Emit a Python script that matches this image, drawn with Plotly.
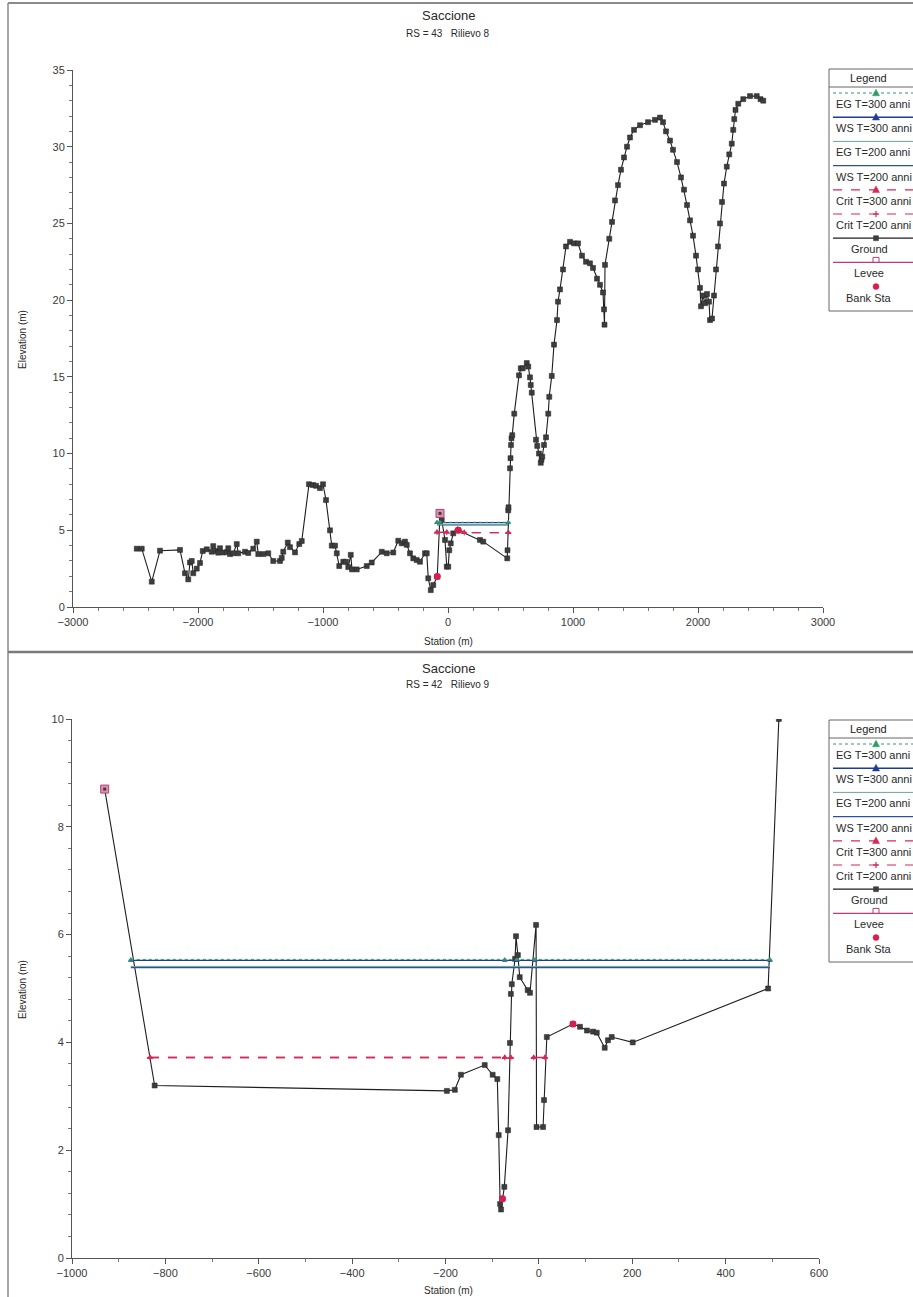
import plotly.graph_objects as go

W, H = 913, 1297
FONT = "Liberation Sans Narrow, Liberation Sans, Arial, sans-serif"

# ---------------- RS = 43  Rilievo 8 ----------------
sta_43 = [-2490, -2450, -2370, -2304, -2144, -2104, -2078, -2064, -2050, -2038,
          -2010, -1984, -1962, -1930, -1890, -1878, -1850, -1838, -1824, -1798,
          -1770, -1758, -1744, -1718, -1690, -1678, -1624, -1598, -1558, -1530,
          -1518, -1478, -1438, -1398, -1344, -1330, -1318, -1282, -1264, -1224,
          -1190, -1170, -1112, -1080, -1056, -1024, -1000, -976, -944, -930,
          -904, -890, -870, -838, -816, -798, -778, -768, -730, -650,
          -610, -530, -490, -438, -398, -370, -344, -330, -304, -278,
          -250, -224, -184, -170, -158, -138, -118, -86, -64, -50,
          -24, -10, 2, 10, 22, 42, 82, 256, 282, 474,
          476, 482, 484, 496, 500, 504, 508, 514, 530, 568,
          582, 598, 630, 642, 656, 662, 670, 704, 714, 728,
          742, 748, 754, 768, 784, 802, 810, 830, 848, 872,
          880, 896, 920, 944, 976, 1008, 1040, 1072, 1104, 1136,
          1160, 1192, 1216, 1240, 1248, 1252, 1256, 1290, 1312, 1336,
          1360, 1384, 1408, 1432, 1456, 1488, 1536, 1600, 1656, 1696,
          1720, 1744, 1776, 1800, 1832, 1864, 1888, 1912, 1936, 1960,
          1984, 2000, 2016, 2024, 2040, 2056, 2072, 2088, 2096, 2112,
          2128, 2144, 2160, 2176, 2192, 2208, 2230, 2250, 2270, 2282,
          2290, 2300, 2322, 2362, 2416, 2470, 2500, 2522]
elev_43 = [3.8, 3.8, 1.65, 3.67, 3.72, 2.2, 1.8, 2.9, 3.0, 2.2,
           2.5, 2.87, 3.65, 3.76, 3.6, 3.97, 3.65, 3.54, 3.83, 3.55,
           3.57, 3.83, 3.45, 3.5, 4.1, 3.5, 3.6, 3.52, 3.8, 4.26,
           3.45, 3.45, 3.5, 3.0, 3.0, 3.2, 3.6, 4.2, 3.9, 3.56,
           4.1, 4.3, 8.0, 7.95, 7.9, 7.75, 8.0, 6.97, 5.0, 4.0,
           4.0, 3.5, 2.67, 2.95, 2.95, 2.6, 3.4, 2.45, 2.45, 2.67,
           2.9, 3.6, 3.5, 3.55, 4.32, 4.15, 4.26, 4.05, 3.5, 3.17,
           3.06, 2.95, 3.5, 3.5, 1.87, 1.1, 1.43, 1.98, 6.1, 5.67,
           4.37, 2.63, 2.63, 3.7, 4.15, 4.8, 5.0, 4.37, 4.26, 3.17,
           3.7, 6.3, 6.5, 9.04, 9.7, 10.56, 11.0, 11.2, 12.6, 15.1,
           15.56, 15.56, 15.9, 15.67, 14.97, 14.47, 13.97, 10.9, 10.5, 10.0,
           9.4, 9.6, 9.8, 10.56, 11.06, 12.6, 13.7, 15.06, 17.1, 18.7,
           19.9, 20.7, 22.0, 23.5, 23.8, 23.7, 23.7, 22.9, 22.5, 22.4,
           22.1, 21.4, 21.0, 20.5, 19.4, 18.4, 22.3, 24.0, 25.1, 26.5,
           27.5, 28.5, 29.3, 30.0, 30.6, 31.1, 31.4, 31.6, 31.75, 31.9,
           31.6, 31.0, 30.4, 29.8, 29.0, 28.0, 27.2, 26.2, 25.2, 24.2,
           22.9, 22.0, 20.8, 19.6, 20.3, 19.8, 20.4, 19.9, 18.7, 18.8,
           20.3, 22.0, 23.5, 25.0, 26.4, 27.6, 28.7, 29.5, 30.2, 31.1,
           31.8, 32.4, 32.8, 33.1, 33.3, 33.3, 33.1, 33.0]
levee_sta_43 = [-64]
levee_elev_43 = [6.1]
bank_sta_43 = [-86, 82]
bank_elev_43 = [1.98, 5.0]
ws_sta_43 = [-88, -64, 482]
eg300_43, ws300_43, eg200_43, ws200_43 = 5.52, 5.50, 5.37, 5.35
crit_sta_43 = [-88, -10, 78, 130, 482]
crit_elev_43 = [4.87, 4.87, 5.07, 4.85, 4.85]

# ---------------- RS = 42  Rilievo 9 ----------------
sta_42 = [-930, -823, -197, -180, -167, -116, -99, -89, -86, -83,
          -81, -78, -74, -66, -62, -60, -58, -51, -49, -45,
          -41, -24, -19, -6, -5, 9, 11, 17, 73, 88,
          103, 116, 124, 141, 148, 156, 201, 491, 514]
elev_42 = [8.7, 3.2, 3.1, 3.12, 3.4, 3.58, 3.4, 3.32, 2.28, 1.0,
           0.9, 1.1, 1.32, 2.37, 3.99, 4.9, 5.08, 5.55, 5.97, 5.62,
           5.21, 4.97, 4.92, 6.18, 2.43, 2.43, 2.93, 4.1, 4.34, 4.29,
           4.22, 4.2, 4.18, 3.9, 4.04, 4.1, 4.0, 5.0, 10.0]
levee_sta_42 = [-930]
levee_elev_42 = [8.7]
bank_sta_42 = [-78, 73]
bank_elev_42 = [1.1, 4.34]
ws_sta_42 = [-874, -73, -47, -9, 495]
eg300_42, ws300_42, eg200_42, ws200_42 = 5.54, 5.52, 5.41, 5.39
crit_sta_42 = [-833, -73, -60, None, -11, 13]
crit_level_42 = 3.72

C_GROUND = "#1e1e1e"
C_GMARK = "#3d3d3d"
C_EG300 = "#2f9c68"
C_WS300 = "#1c3c96"
C_EG200 = "#6aa88a"
C_WS200 = "#2c4f9f"
C_CRIT = "#d42a55"
C_LEVEE = "#c03a78"
C_BANK = "#d81e4e"

fig = go.Figure()


def add_section(xa, ya, sta, elev, ws_sta, eg300, ws300, eg200, ws200,
                crit_sta, crit_elev, levee_sta, levee_elev, bank_sta, bank_elev):
    kw = dict(xaxis=xa, yaxis=ya, showlegend=False, hoverinfo="skip")
    fig.add_trace(go.Scatter(x=sta, y=elev, mode="lines+markers",
                             line=dict(color=C_GROUND, width=1.1),
                             marker=dict(symbol="square", size=5, color=C_GMARK,
                                         line=dict(color="#222", width=0.5)), **kw))
    n = len(ws_sta)
    fig.add_trace(go.Scatter(x=[ws_sta[0], ws_sta[-1]], y=[ws200] * 2, mode="lines",
                             line=dict(color=C_WS200, width=1.3), **kw))
    fig.add_trace(go.Scatter(x=[ws_sta[0], ws_sta[-1]], y=[eg200] * 2, mode="lines",
                             line=dict(color=C_EG200, width=1.0), **kw))
    fig.add_trace(go.Scatter(x=ws_sta, y=[ws300] * n, mode="lines+markers",
                             line=dict(color=C_WS300, width=1.3),
                             marker=dict(symbol="triangle-up", size=5, color=C_WS300), **kw))
    fig.add_trace(go.Scatter(x=ws_sta, y=[eg300] * n, mode="lines+markers",
                             line=dict(color=C_EG300, width=1.0, dash="dot"),
                             marker=dict(symbol="triangle-up", size=5, color=C_EG300), **kw))
    fig.add_trace(go.Scatter(x=crit_sta, y=crit_elev, mode="lines+markers",
                             line=dict(color=C_CRIT, width=1.3, dash="dash"),
                             marker=dict(symbol="cross-thin", size=4,
                                         line=dict(color=C_CRIT, width=1)), **kw))
    fig.add_trace(go.Scatter(x=crit_sta, y=crit_elev, mode="lines+markers",
                             line=dict(color=C_CRIT, width=1.3, dash="dash"),
                             marker=dict(symbol="triangle-up", size=6, color=C_CRIT), **kw))
    fig.add_trace(go.Scatter(x=levee_sta, y=levee_elev, mode="markers",
                             marker=dict(symbol="square", size=8, color="#d497ae",
                                         line=dict(color=C_LEVEE, width=1)), **kw))
    fig.add_trace(go.Scatter(x=levee_sta, y=levee_elev, mode="markers",
                             marker=dict(symbol="square", size=3, color=C_GMARK), **kw))
    fig.add_trace(go.Scatter(x=bank_sta, y=bank_elev, mode="markers",
                             marker=dict(symbol="circle", size=7, color=C_BANK), **kw))


add_section("x", "y", sta_43, elev_43, ws_sta_43, eg300_43, ws300_43, eg200_43, ws200_43,
            crit_sta_43, crit_elev_43, levee_sta_43, levee_elev_43, bank_sta_43, bank_elev_43)
add_section("x2", "y2", sta_42, elev_42, ws_sta_42, eg300_42, ws300_42, eg200_42, ws200_42,
            crit_sta_42, [crit_level_42 if s is not None else None for s in crit_sta_42],
            levee_sta_42, levee_elev_42, bank_sta_42, bank_elev_42)


def px(x):
    return x / W


def py(y):
    return 1 - y / H


tickfont = dict(family=FONT, size=11, color="#3a3a3a")
axis_common = dict(showline=True, linecolor="#555", linewidth=1, ticks="outside",
                   ticklen=5, tickcolor="#555", showgrid=False, zeroline=False,
                   automargin=False, tickfont=tickfont)

fig.update_layout(
    width=W, height=H, margin=dict(l=0, r=0, t=0, b=0, pad=0), autosize=False,
    paper_bgcolor="white", plot_bgcolor="white", showlegend=False,
    xaxis=dict(domain=[px(73), px(823)], range=[-3000, 3000], dtick=1000,
               anchor="y", minor=dict(dtick=200, ticks="outside", ticklen=3, tickcolor="#777"),
               **axis_common),
    yaxis=dict(domain=[py(607), py(70)], range=[0, 35], dtick=5, anchor="x",
               minor=dict(dtick=1, ticks="outside", ticklen=3, tickcolor="#777"),
               **axis_common),
    xaxis2=dict(domain=[px(72), px(819)], range=[-1000, 600], dtick=200,
                anchor="y2", minor=dict(dtick=100, ticks="outside", ticklen=3, tickcolor="#777"),
                **axis_common),
    yaxis2=dict(domain=[py(1258), py(719)], range=[0, 10], dtick=2, anchor="x2",
                minor=dict(dtick=0.4, ticks="outside", ticklen=3, tickcolor="#777"),
                **axis_common),
)

annotations = []
shapes = []


def text(x, y, s, size, anchor="center", angle=0, color="#2a2a2a"):
    annotations.append(dict(x=px(x), y=py(y), xref="paper", yref="paper", text=s,
                            showarrow=False, xanchor=anchor, yanchor="middle",
                            textangle=angle, font=dict(family=FONT, size=size, color=color)))


# page frame
shapes.append(dict(type="line", xref="paper", yref="paper", x0=px(8), x1=1.0,
                   y0=py(3), y1=py(3), line=dict(color="#8a8a8a", width=2)))
shapes.append(dict(type="line", xref="paper", yref="paper", x0=px(8), x1=px(8),
                   y0=py(3), y1=0, line=dict(color="#8a8a8a", width=1.5)))
shapes.append(dict(type="line", xref="paper", yref="paper", x0=px(8), x1=1.0,
                   y0=py(652), y1=py(652), line=dict(color="#7a7a7a", width=2.5)))

# titles and axis labels
for off, rs in ((0, "RS = 43   Rilievo 8"), (652, "RS = 42   Rilievo 9")):
    text(448, 16 + off, "Saccione", 13)
    text(448, 33 + off, rs, 10)
text(22, 340, "Elevation (m)", 10, angle=-90)
text(22, 990, "Elevation (m)", 10, angle=-90)
text(448, 641, "Station (m)", 10)
text(448, 1290, "Station (m)", 10)


def tri(cx, cy, col, s=3.5):
    shapes.append(dict(type="path", xref="paper", yref="paper",
                       path=f"M {px(cx - s)},{py(cy + s * 0.8)} L {px(cx + s)},{py(cy + s * 0.8)} "
                            f"L {px(cx)},{py(cy - s * 1.1)} Z",
                       fillcolor=col, line=dict(color=col, width=0.5)))


def hline(x0, x1, y, col, width=1.2, dash="solid"):
    shapes.append(dict(type="line", xref="paper", yref="paper", x0=px(x0), x1=px(x1),
                       y0=py(y), y1=py(y), line=dict(color=col, width=width, dash=dash)))


def legend_box(top):
    shapes.append(dict(type="rect", xref="paper", yref="paper", x0=px(829), x1=1.02,
                       y0=py(top), y1=py(top + 242), line=dict(color="#666", width=1),
                       fillcolor="white", layer="above"))
    hline(829, 920, top + 18, "#666", 1)
    text(868, top + 9, "Legend", 11, color="#222")
    names = ["EG T=300 anni", "WS T=300 anni", "EG T=200 anni", "WS T=200 anni",
             "Crit T=300 anni", "Crit T=200 anni", "Ground", "Levee", "Bank Sta"]
    for i, name in enumerate(names):
        ly = top + 24 + 24.2 * i
        ty = ly + 11
        mx = 876
        if i == 0:
            hline(833, 913, ly, C_EG300, 1, "dot")
            tri(mx, ly, C_EG300)
        elif i == 1:
            hline(833, 913, ly, C_WS300, 1.4)
            tri(mx, ly, C_WS300)
        elif i == 2:
            hline(833, 913, ly, C_EG200, 1)
        elif i == 3:
            hline(833, 913, ly, C_WS200, 1.4)
        elif i == 4:
            hline(833, 913, ly, C_CRIT, 1.2, "dash")
            tri(mx, ly, C_CRIT)
        elif i == 5:
            hline(833, 913, ly, C_CRIT, 1.2, "dash")
            hline(mx - 3, mx + 3, ly, C_CRIT, 1.2)
            shapes.append(dict(type="line", xref="paper", yref="paper", x0=px(mx), x1=px(mx),
                               y0=py(ly - 3), y1=py(ly + 3), line=dict(color=C_CRIT, width=1.2)))
        elif i == 6:
            hline(833, 913, ly, C_GROUND, 1.2)
            shapes.append(dict(type="rect", xref="paper", yref="paper", x0=px(mx - 2.5),
                               x1=px(mx + 2.5), y0=py(ly + 2.5), y1=py(ly - 2.5),
                               fillcolor=C_GMARK, line=dict(color=C_GMARK, width=0.5)))
        elif i == 7:
            hline(833, 913, ly, C_LEVEE, 1.2)
            shapes.append(dict(type="path", xref="paper", yref="paper",
                               path=f"M {px(mx - 3)},{py(ly)} L {px(mx - 3)},{py(ly - 5)} "
                                    f"L {px(mx + 3)},{py(ly - 5)} L {px(mx + 3)},{py(ly)}",
                               line=dict(color=C_LEVEE, width=1)))
        else:
            shapes.append(dict(type="circle", xref="paper", yref="paper", x0=px(mx - 3),
                               x1=px(mx + 3), y0=py(ly + 3), y1=py(ly - 3),
                               fillcolor=C_BANK, line=dict(color=C_BANK, width=0.5)))
        if i < 6:
            text(834, ty, name, 11, anchor="left")
        else:
            text(869, ty, name, 11)


legend_box(69)
legend_box(720)

fig.update_layout(annotations=annotations, shapes=shapes)
fig.write_html("out.html")
